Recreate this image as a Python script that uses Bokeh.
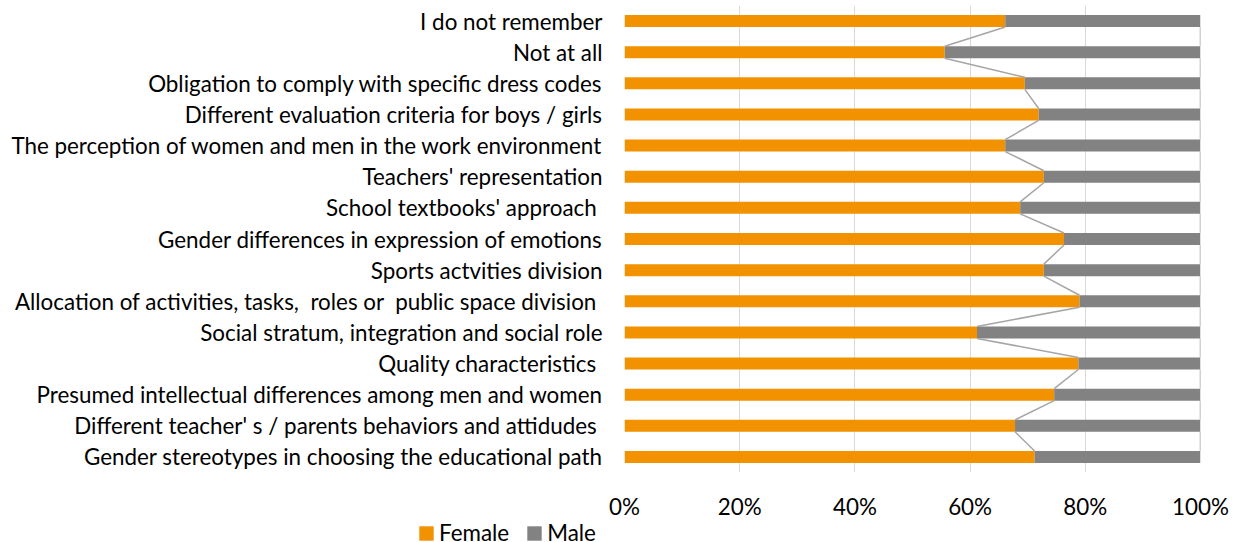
from bokeh.plotting import figure
from bokeh.models import (Range1d, FixedTicker, NumeralTickFormatter, Legend, LegendItem,
                          ColumnDataSource)
from bokeh.embed import file_html
from bokeh.resources import INLINE

# ---- data (top to bottom as displayed) ----
categories = [
    "I do not remember",
    "Not at all",
    "Obligation to comply with specific dress codes",
    "Different evaluation criteria for boys / girls",
    "The perception of women and men in the work environment",
    "Teachers' representation",
    "School textbooks' approach\u00a0",
    "Gender differences in expression of emotions",
    "Sports actvities division",
    "Allocation of activities, tasks,\u00a0 roles or\u00a0 public space division\u00a0",
    "Social stratum, integration and social role",
    "Quality characteristics\u00a0",
    "Presumed intellectual differences among men and women",
    "Different teacher' s / parents behaviors and attidudes\u00a0",
    "Gender stereotypes in choosing the educational path",
]
female_pct = [66.1, 55.6, 69.5, 71.9, 66.1, 72.8, 68.7, 76.3, 72.8, 79.0, 61.2, 78.8, 74.6, 67.8, 71.2]
male_pct = [round(100 - f, 1) for f in female_pct]
series_names = ["Female", "Male"]
x_ticks = [0, 0.2, 0.4, 0.6, 0.8, 1.0]

FONT = "Lato"
FS = "22.4px"
ORANGE = "#F39200"
GREY = "#828282"

n = len(categories)
ypos = [n - i for i in range(n)]
fem = [f / 100 for f in female_pct]
tot = [(f + m) / 100 for f, m in zip(female_pct, male_pct)]

src = ColumnDataSource(dict(y=ypos, fem=fem, tot=tot, zero=[0] * n))

p = figure(width=1233, height=522, output_backend="svg", toolbar_location=None,
           x_range=Range1d(0, 1), y_range=Range1d(0.5, 15.5),
           min_border_left=624, min_border_right=33, min_border_top=5, min_border_bottom=49)
p.outline_line_color = None
p.background_fill_color = "white"
p.border_fill_color = "white"

BH = 0.385
r_f = p.hbar(y="y", left="zero", right="fem", height=BH, source=src, fill_color=ORANGE, line_color=None)
r_m = p.hbar(y="y", left="fem", right="tot", height=BH, source=src, fill_color=GREY, line_color=None)

# series lines connecting bar ends
x0 = fem[:-1]; y0 = [y - BH / 2 for y in ypos[:-1]]
x1 = fem[1:];  y1 = [y + BH / 2 for y in ypos[1:]]
p.segment(x0=x0, y0=y0, x1=x1, y1=y1, line_color="#a5a5a5", line_width=1.5)
p.segment(x0=tot[:-1], y0=y0, x1=tot[1:], y1=y1, line_color="#a5a5a5", line_width=1.5)

# axes
p.xaxis.ticker = FixedTicker(ticks=x_ticks)
p.xaxis.formatter = NumeralTickFormatter(format="0%")
p.xaxis.axis_line_color = None
p.xaxis.major_tick_line_color = None
p.xaxis.minor_tick_line_color = None
p.xaxis.major_label_standoff = 14
p.xaxis.major_label_text_font = FONT
p.xaxis.major_label_text_font_size = FS
p.xaxis.major_label_text_color = "#000000"

p.yaxis.ticker = FixedTicker(ticks=ypos)
p.yaxis.major_label_overrides = {y: c for y, c in zip(ypos, categories)}
p.yaxis.axis_line_color = None
p.yaxis.major_tick_line_color = None
p.yaxis.minor_tick_line_color = None
p.yaxis.major_label_standoff = 16
p.yaxis.major_label_text_font = FONT
p.yaxis.major_label_text_font_size = FS
p.yaxis.major_label_text_color = "#000000"

p.xgrid.ticker = FixedTicker(ticks=x_ticks)
p.xgrid.grid_line_color = "#d9d9d9"
p.xgrid.grid_line_width = 1
p.ygrid.grid_line_color = None

# ---- legend strip below the chart (separate root, full-width frame) ----
lg = figure(width=1233, height=20, output_backend="svg", toolbar_location=None,
            x_range=Range1d(0, 1), y_range=Range1d(100, 101),
            min_border=0, x_axis_type=None, y_axis_type=None)
lg.outline_line_color = None
lg.grid.grid_line_color = None
s_f = lg.hbar(y="y", left="zero", right="fem", height=BH, source=src, fill_color=ORANGE, line_color=None)
s_m = lg.hbar(y="y", left="fem", right="tot", height=BH, source=src, fill_color=GREY, line_color=None)
legend = Legend(items=[LegendItem(label=series_names[0], renderers=[s_f], index=0),
                       LegendItem(label=series_names[1], renderers=[s_m], index=0)],
                orientation="horizontal", location=(417, -4),
                glyph_width=18, glyph_height=18, label_standoff=4, spacing=16,
                padding=0, margin=0, border_line_color=None, background_fill_alpha=0,
                label_text_font=FONT, label_text_font_size=FS, label_text_color="#000000")
lg.add_layout(legend, "center")

open("out.html", "w").write(file_html([p, lg], INLINE))
